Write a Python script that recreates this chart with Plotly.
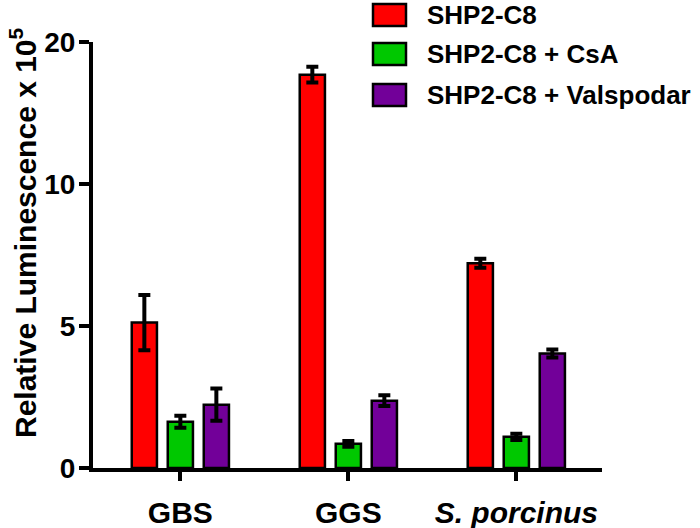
import plotly.graph_objects as go

# ---- data (values in units of 10^5) ----
categories = ["GBS", "GGS", "S. porcinus"]
category_labels = ["GBS", "GGS", "<i>S. porcinus</i>"]
series_names = ["SHP2-C8", "SHP2-C8 + CsA", "SHP2-C8 + Valspodar"]
shp2_c8 = [5.12, 17.7, 7.21]
shp2_c8_err = [0.97, 0.55, 0.16]
csa = [1.63, 0.85, 1.10]
csa_err = [0.21, 0.10, 0.11]
valspodar = [2.23, 2.37, 4.03]
valspodar_err = [0.57, 0.19, 0.14]
y_tick_values = [0, 5, 10, 20]
colors = ["#FF0000", "#00C800", "#720099"]

# ---- two-segment y axis (0-10 full scale, 10-20 half scale) ----
def seg(v):
    return v if v <= 10 else 10 + (v - 10) / 2.0

FONT = "Liberation Sans, Arial, sans-serif"
W, H = 700, 528
ML, MT = 93, 42
PW, PH = 602 - 93, 468 - 42
MR, MB = W - ML - PW, H - MT - PH

def px_x(x):
    return (x - ML) / PW

def px_y(y):
    return (MT + PH - y) / PH

fig = go.Figure()
for name, vals, errs, col in zip(series_names, [shp2_c8, csa, valspodar],
                                 [shp2_c8_err, csa_err, valspodar_err], colors):
    yv = [seg(v) for v in vals]
    up = [seg(v + e) - seg(v) for v, e in zip(vals, errs)]
    dn = [seg(v) - seg(v - e) for v, e in zip(vals, errs)]
    fig.add_trace(go.Bar(
        x=categories, y=yv, name=name, showlegend=False,
        marker=dict(color=col, line=dict(color="black", width=2.5)),
        error_y=dict(type="data", symmetric=False, array=up, arrayminus=dn,
                     color="black", thickness=4, width=6),
    ))

fig.update_layout(
    width=W, height=H, barmode="group", bargap=0.357, bargroupgap=0.3,
    plot_bgcolor="white", paper_bgcolor="white",
    margin=dict(l=ML, r=MR, t=MT, b=MB, autoexpand=False),
    font=dict(family=FONT, color="black"),
)
fig.update_xaxes(
    range=[-0.52, 2.51], showline=True, linecolor="black", linewidth=4,
    ticks="outside", ticklen=9, tickwidth=4, tickcolor="black",
    tickvals=categories, ticktext=category_labels,
    tickfont=dict(size=30, family=FONT, weight="bold"),
    showgrid=False, zeroline=False, ticklabelstandoff=6,
)
fig.update_yaxes(
    range=[0, seg(20)], showline=True, linecolor="black", linewidth=4,
    ticks="outside", ticklen=10, tickwidth=4, tickcolor="black",
    tickvals=[seg(v) for v in y_tick_values], ticktext=[str(v) for v in y_tick_values],
    tickfont=dict(size=28, family=FONT, weight="bold"),
    showgrid=False, zeroline=False, ticklabelstandoff=-2,
)

# y-axis title
fig.add_annotation(
    xref="paper", yref="paper", x=px_x(23), y=px_y(233),
    text="Relative Luminescence x 10<sup>5</sup>", textangle=-90,
    showarrow=False, xanchor="center", yanchor="middle",
    font=dict(size=30, family=FONT, weight="bold", color="black"),
)

# legend (swatches + labels)
row_centers = [15, 54, 95]
for name, col, cy in zip(series_names, colors, row_centers):
    fig.add_shape(type="rect", xref="paper", yref="paper",
                  x0=px_x(373), x1=px_x(406), y0=px_y(cy - 11), y1=px_y(cy + 11),
                  fillcolor=col, line=dict(color="black", width=2.5))
    fig.add_annotation(xref="paper", yref="paper", x=px_x(425), y=px_y(cy),
                       text=name, showarrow=False, xanchor="left", yanchor="middle",
                       font=dict(size=26, family=FONT, weight="bold", color="black"))

fig.write_html("out.html", config={"displayModeBar": False},
               post_script="document.body.style.margin='0';document.body.style.overflow='hidden';")
